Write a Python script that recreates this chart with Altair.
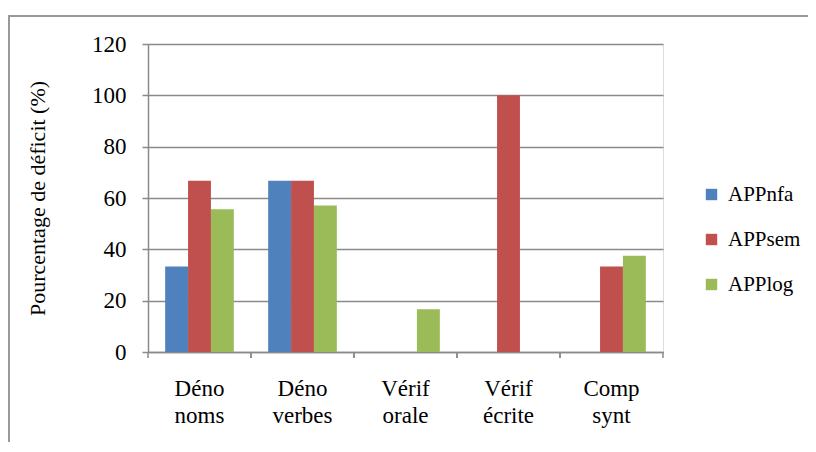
import altair as alt
import pandas as pd

categories = ["Déno noms", "Déno verbes", "Vérif orale", "Vérif écrite", "Comp synt"]
series = ["APPnfa", "APPsem", "APPlog"]
appnfa = [33.3, 66.7, 0, 0, 0]
appsem = [66.7, 66.7, 0, 100, 33.3]
applog = [55.6, 57.1, 16.7, 0, 37.5]
colors = ["#4F81BD", "#C0504D", "#9BBB59"]
y_ticks = [0, 20, 40, 60, 80, 100, 120]

rows = []
for s, vals in zip(series, [appnfa, appsem, applog]):
    for c, v in zip(categories, vals):
        rows.append({"cat": c, "series": s, "value": v})
df = pd.DataFrame(rows)
cat_df = pd.DataFrame({"cat": categories})

FONT = "Liberation Serif"
GRID = "#8a8a8a"
W, H = 515, 308

xscale = alt.Scale(domain=categories, paddingInner=0, paddingOuter=0)

bars = alt.Chart(df).mark_bar().encode(
    x=alt.X("cat:N", scale=xscale, sort=categories,
            axis=alt.Axis(title=None, labelAngle=0, ticks=False, domainColor=GRID,
                          domainWidth=1.5, labelExpr="split(datum.label, ' ')",
                          labelFont=FONT, labelFontSize=23, labelColor="#000",
                          labelLineHeight=27, labelPadding=25, labelBaseline="top")),
    xOffset=alt.XOffset("series:N", sort=series,
                        scale=alt.Scale(domain=series, paddingInner=0, paddingOuter=0.75)),
    y=alt.Y("value:Q", scale=alt.Scale(domain=[0, 120], nice=False),
            axis=alt.Axis(values=y_ticks, title="Pourcentage de déficit (%)",
                          grid=True, gridColor=GRID, gridWidth=1.5,
                          domainColor=GRID, domainWidth=1.5,
                          tickColor=GRID, tickWidth=1.5, tickSize=6,
                          labelFont=FONT, labelFontSize=23, labelColor="#000",
                          labelPadding=16, titleFont=FONT, titleFontSize=22,
                          titleFontWeight="normal", titleColor="#000", titlePadding=42)),
    color=alt.Color("series:N", sort=series, scale=alt.Scale(domain=series, range=colors),
                    legend=alt.Legend(title=None, orient="none", legendX=553, legendY=140,
                                      symbolType="square", symbolSize=130, symbolStrokeWidth=0,
                                      labelFont=FONT, labelFontSize=21, labelColor="#000",
                                      rowPadding=23, labelOffset=6, padding=0)),
)

tick_start = alt.Chart(cat_df).mark_rule(color=GRID, strokeWidth=1.5).encode(
    x=alt.X("cat:N", bandPosition=0, scale=xscale, sort=categories),
    y=alt.value(H), y2=alt.value(H + 6))
tick_end = alt.Chart(cat_df).mark_rule(color=GRID, strokeWidth=1.5).encode(
    x=alt.X("cat:N", bandPosition=1, scale=xscale, sort=categories),
    y=alt.value(H), y2=alt.value(H + 6))

one = alt.Data(values=[{"a": 1}])
frame_left = alt.Chart(one).mark_rule(color="#999999", strokeWidth=2).encode(
    x=alt.value(-139), y=alt.value(-29), y2=alt.value(500))
frame_top = alt.Chart(one).mark_rule(color="#999999", strokeWidth=2).encode(
    x=alt.value(-140), x2=alt.value(800), y=alt.value(-28))

chart = alt.layer(frame_left, frame_top, bars, tick_start, tick_end).properties(
    width=W, height=H,
    autosize=alt.AutoSizeParams(type="none"),
    padding={"left": 140, "top": 36, "right": 145, "bottom": 90},
).configure_view(strokeWidth=0).configure(background="white")

chart.save("out.html", embed_options={"renderer": "svg", "actions": False})
